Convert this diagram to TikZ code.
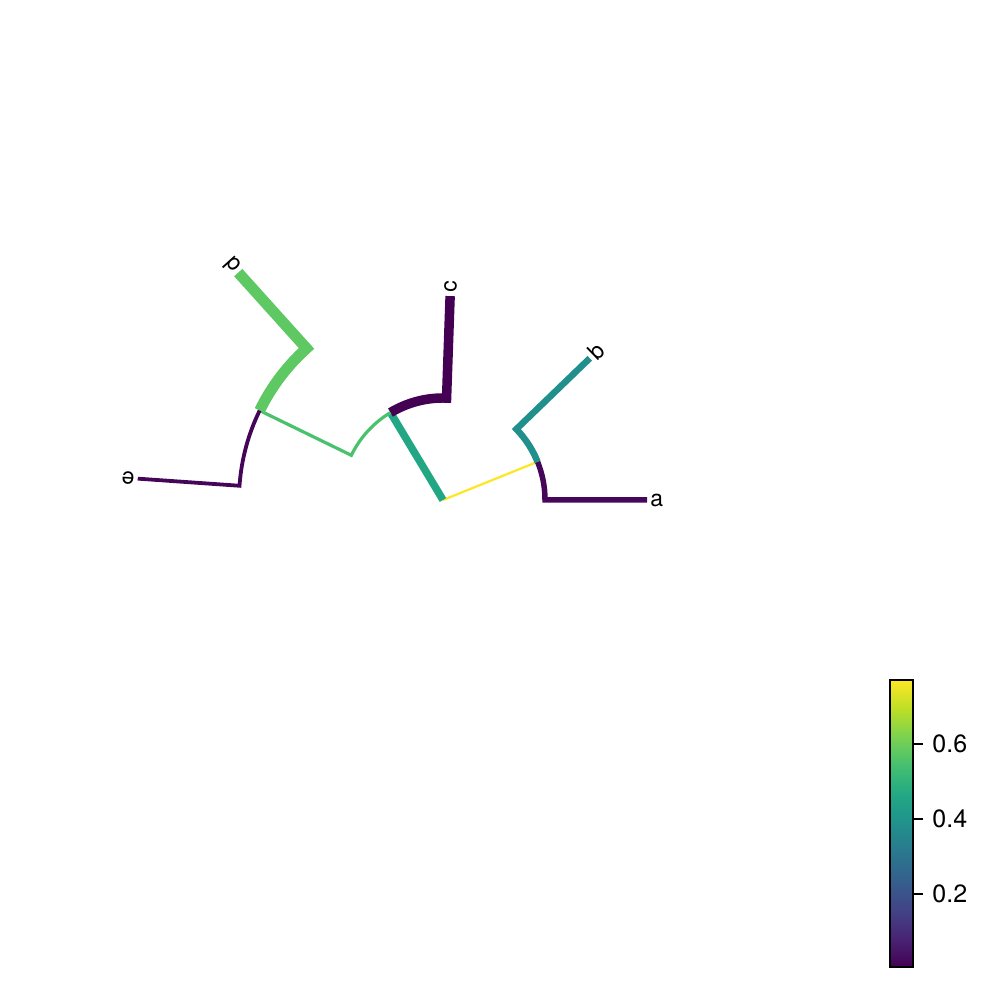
\documentclass[tikz,border=0pt]{standalone}
\usepackage{fontspec}
\setmainfont{TeX Gyre Heros}
\usetikzlibrary{calc}

\definecolor{vir0}{HTML}{440154}
\definecolor{vir1}{HTML}{482475}
\definecolor{vir2}{HTML}{414487}
\definecolor{vir3}{HTML}{355F8D}
\definecolor{vir4}{HTML}{2A788E}
\definecolor{vir5}{HTML}{21918C}
\definecolor{vir6}{HTML}{22A884}
\definecolor{vir7}{HTML}{44BF70}
\definecolor{vir8}{HTML}{7AD151}
\definecolor{vir9}{HTML}{BDDF26}
\definecolor{vir10}{HTML}{FDE725}
\definecolor{edgeA}{HTML}{46075A}
\definecolor{edgeB}{HTML}{21908D}
\definecolor{edgeC}{HTML}{440154}
\definecolor{edgeD}{HTML}{5EC962}
\definecolor{edgeE}{HTML}{45065A}
\definecolor{edgeP}{HTML}{FDE725}
\definecolor{edgeQ}{HTML}{22A785}
\definecolor{edgeR}{HTML}{4AC16D}

\pgfdeclareverticalshading{viridis}{100bp}{color(0bp)=(vir0); color(25bp)=(vir0);
  color(30bp)=(vir1); color(35bp)=(vir2); color(40bp)=(vir3); color(45bp)=(vir4);
  color(50bp)=(vir5); color(55bp)=(vir6); color(60bp)=(vir7); color(65bp)=(vir8);
  color(70bp)=(vir9); color(75bp)=(vir10); color(100bp)=(vir10)}

\begin{document}
\begin{tikzpicture}[x=0.5pt,y=0.5pt,line join=miter,
    edge/.style={line cap=butt},
    leaf/.style={anchor=west,inner sep=1.5pt,font=\fontsize{11.5}{13}\selectfont},
    tick/.style={anchor=west,inner sep=0pt,font=\fontsize{12.5}{15}\selectfont}]
    \useasboundingbox (0,0) rectangle (1000,1000);
    % 节点
    \coordinate (root) at (443,500);
    \coordinate (n1) at ($(root)+(22:102)$);
    \coordinate (n2) at ($(root)+(121:102)$);
    \coordinate (n3) at ($(root)+(154:204)$);
    \coordinate (a) at ($(root)+(0:204)$);
    \coordinate (b) at ($(root)+(44:204)$);
    \coordinate (c) at ($(root)+(88:204)$);
    \coordinate (d) at ($(root)+(132:306)$);
    \coordinate (e) at ($(root)+(176:306)$);
    % 分支
    \draw[edge,edgeP,line width=1.1pt] (root) -- (n1);
    \draw[edge,edgeQ,line width=3.75pt] (root) -- (n2);
    \draw[edge,edgeA,line width=2.75pt] (n1) arc[start angle=22,end angle=0,radius=102] -- (a);
    \draw[edge,edgeB,line width=3.25pt] (n1) arc[start angle=22,end angle=44,radius=102] -- (b);
    \draw[edge,edgeC,line width=4.75pt] (n2) arc[start angle=121,end angle=88,radius=102] -- (c);
    \draw[edge,edgeR,line width=1.6pt] (n2) arc[start angle=121,end angle=154,radius=102] -- (n3);
    \draw[edge,edgeD,line width=5.5pt] (n3) arc[start angle=154,end angle=132,radius=204] -- (d);
    \draw[edge,edgeE,line width=1.9pt] (n3) arc[start angle=154,end angle=176,radius=204] -- (e);
    % 叶标签
    \node[leaf] (la) at (a) {a};
    \node[leaf,rotate=44] (lb) at (b) {b};
    \node[leaf,rotate=88] (lc) at (c) {c};
    \node[leaf,rotate=132] (ld) at (d) {d};
    \node[leaf,rotate=176] (le) at (e) {e};
    % 色标
    \shade[shading=viridis] (890,33) rectangle (913,320);
    \draw[line width=1pt] (890,33) rectangle (913,320);
    \foreach \v/\yy/\nm in {0.2/106/tk2,0.4/181/tk4,0.6/256/tk6}{
        \draw[line width=1pt] (913,\yy) -- (923,\yy);
        \node[tick] (\nm) at (932,\yy) {\v};
    }
\end{tikzpicture}
\end{document}
